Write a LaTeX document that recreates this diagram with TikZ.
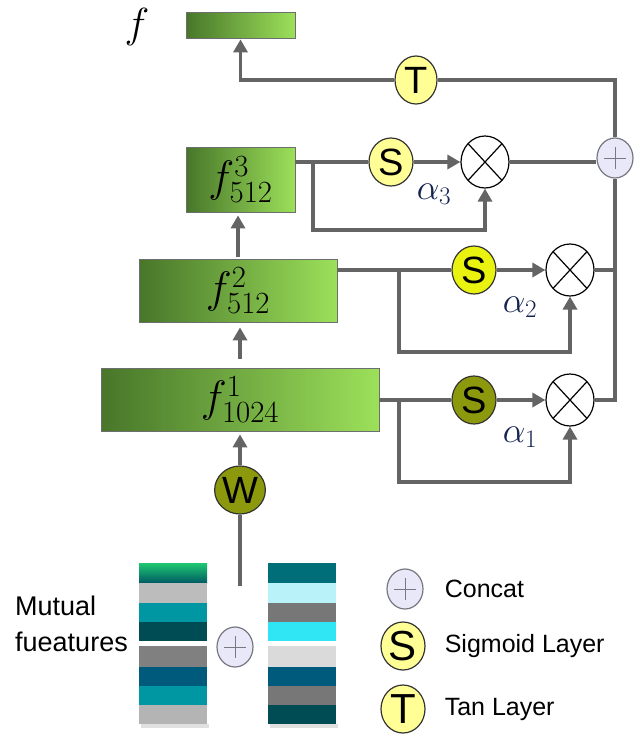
\documentclass[tikz,border=0pt]{standalone}
\usepackage{fix-cm}
\usepackage{fontspec}
\setsansfont{Liberation Sans}
\usepackage{tikz}
\usetikzlibrary{arrows.meta, positioning, shapes.geometric, calc}

\definecolor{linegray}{RGB}{100,100,100}
\definecolor{boxedge}{RGB}{110,110,110}
\definecolor{boxdark}{RGB}{72,118,42}
\definecolor{boxlight}{RGB}{156,224,90}
\definecolor{paleyellow}{RGB}{255,255,150}
\definecolor{brightyellow}{RGB}{234,242,16}
\definecolor{olive}{RGB}{141,153,12}
\definecolor{catfill}{RGB}{232,232,248}
\definecolor{catedge}{RGB}{120,120,130}
\definecolor{alphablue}{RGB}{20,35,80}
\definecolor{lgray}{RGB}{188,188,188}
\definecolor{lgraytwo}{RGB}{180,180,180}
\definecolor{teal}{RGB}{0,151,163}
\definecolor{dteal}{RGB}{0,76,85}
\definecolor{midgray}{RGB}{128,128,128}
\definecolor{deepblue}{RGB}{0,90,124}
\definecolor{sea}{RGB}{0,110,120}
\definecolor{ice}{RGB}{185,243,249}
\definecolor{darkgray}{RGB}{119,119,119}
\definecolor{cyanbar}{RGB}{48,230,245}
\definecolor{palegray}{RGB}{218,218,218}
\definecolor{greentop}{RGB}{30,200,112}

\begin{document}
\begin{tikzpicture}[x=1pt, y=-1pt,
  layer/.style={draw=boxedge, line width=0.8pt, left color=boxdark, middle color=boxdark!45!boxlight, right color=boxlight, inner sep=0pt, font=\fontsize{44}{48}\selectfont},
  gate/.style={ellipse, draw=black!80, line width=1.2pt, minimum width=44pt, minimum height=48pt, inner sep=0pt, font=\sffamily\fontsize{38}{38}\selectfont},
  mult/.style={ellipse, draw=black, line width=1.2pt, fill=white, minimum width=48pt, minimum height=52pt, inner sep=0pt,
    path picture={\draw[line width=1.2pt] (path picture bounding box.north west) -- (path picture bounding box.south east) (path picture bounding box.south west) -- (path picture bounding box.north east);}},
  concat/.style={ellipse, draw=catedge, line width=1.2pt, fill=catfill, minimum width=36pt, minimum height=40pt, inner sep=0pt,
    path picture={\draw[catedge, line width=1pt] ($(path picture bounding box.center)+(-11,0)$) -- ++(22,0) ($(path picture bounding box.center)+(0,-11)$) -- ++(0,22);}},
  alab/.style={text=alphablue, font=\fontsize{36}{38}\selectfont, inner sep=0pt},
  legtxt/.style={font=\sffamily\fontsize{25}{28}\selectfont, inner sep=0pt},
  conn/.style={line width=3.5pt, draw=linegray},
  arr/.style={conn, -{Triangle[length=13pt, width=14pt]}}
]
  \fill[white] (0,0) rectangle (633,734);
  \useasboundingbox (0,0) rectangle (633,734);

  \node[font=\fontsize{42}{46}\selectfont] (flabel) at (137,27) {$f$};
  \node[layer, minimum width=109pt, minimum height=26pt] (out) at (240.5,25) {};
  \node[layer, minimum width=109pt, minimum height=65pt] (layer3) at (240.5,179.5) {$f^{3}_{512}$};
  \node[layer, minimum width=198pt, minimum height=63pt] (layer2) at (238,290.5) {$f^{2}_{512}$};
  \node[layer, minimum width=278pt, minimum height=63pt] (layer1) at (240,399.5) {$f^{1}_{1024}$};

  \node[gate, fill=paleyellow, minimum width=42pt] (tanh) at (416,80) {T};
  \node[concat] (cat) at (615,158) {};

  \node[gate, fill=paleyellow] (sig3) at (391,162) {S};
  \node[mult] (mul3) at (485,162) {};
  \node[gate, fill=brightyellow] (sig2) at (474,270) {S};
  \node[mult] (mul2) at (570,270) {};
  \node[gate, fill=olive] (sig1) at (474,400) {S};
  \node[mult] (mul1) at (570,400) {};

  \node[alab] (a3) at (434,194) {$\alpha_3$};
  \node[alab] (a2) at (520,307) {$\alpha_2$};
  \node[alab] (a1) at (520,437) {$\alpha_1$};

  \node[gate, fill=olive, minimum width=46pt] (w) at (240,490) {W};
  \coordinate (wIn) at (240,586);

  \coordinate (j3) at (313,162);
  \coordinate (j2) at (399,270);
  \coordinate (j1) at (399,400);

  \draw[conn] (layer3.east |- sig3.west) -- (sig3.west);
  \draw[arr] (sig3) -- (mul3);
  \draw[arr] (j3) -- ++(0,68) -| (mul3.south);
  \draw[conn] (mul3.east) -- (mul3.east -| cat.west);

  \draw[conn] (layer2.east |- sig2.west) -- (sig2.west);
  \draw[arr] (sig2) -- (mul2);
  \draw[arr] (j2) -- ++(0,82) -| (mul2.south);
  \draw[conn] (mul2.east) -- (mul2.east -| cat.south);

  \draw[conn] (layer1.east |- sig1.west) -- (sig1.west);
  \draw[arr] (sig1) -- (mul1);
  \draw[arr] (j1) -- ++(0,82) -| (mul1.south);
  \draw[conn] (mul1.east) -| (cat.south);

  \draw[conn] (cat.north) |- (tanh.east);
  \draw[arr, shorten >=1pt] (tanh.west) -| (out.south);

  \draw[arr, shorten <=2pt, shorten >=3pt] (layer2.north) -- (layer2.north |- layer3.south);
  \draw[arr, shorten <=9pt, shorten >=5pt] (layer1.north) -- (layer1.north |- layer2.south);
  \draw[arr, shorten >=3pt] (w) -- (w |- layer1.south);
  \draw[conn] (w) -- (wIn);

  \fill[black!12] (141,724) rectangle (209,728);
  \fill[black!12] (270,724) rectangle (338,728);
  \shade[top color=greentop, bottom color=dteal!80!teal] (139,563) rectangle (207,583);
  \foreach \yt/\yb/\col in {583/603/lgray, 603/622/teal, 622/641/dteal, 646/667/midgray, 667/686/deepblue, 686/705/teal, 705/724/lgraytwo}
    \fill[\col] (139,\yt) rectangle (207,\yb);
  \foreach \yt/\yb/\col in {563/583/sea, 583/603/ice, 603/622/darkgray, 622/641/cyanbar, 646/667/palegray, 667/686/deepblue, 686/705/darkgray, 705/724/dteal}
    \fill[\col] (268,\yt) rectangle (336,\yb);
  \node[concat] (catIn) at (235,647) {};
  \node[legtxt, font=\sffamily\fontsize{27}{36}\selectfont, align=left, anchor=west] (mutual) at (15,624) {Mutual\\fueatures};

  \node[concat] (legCat) at (405,589) {};
  \node[legtxt, right=21pt of legCat] (legCatTxt) {Concat};
  \node[gate, fill=paleyellow, font=\sffamily\fontsize{42}{42}\selectfont] (legSig) at (403,646) {S};
  \node[legtxt, right=19pt of legSig] (legSigTxt) {Sigmoid Layer};
  \node[gate, fill=paleyellow, font=\sffamily\fontsize{42}{42}\selectfont] (legTan) at (403,709) {T};
  \node[legtxt, right=19pt of legTan] (legTanTxt) {Tan Layer};
\end{tikzpicture}
\end{document}
